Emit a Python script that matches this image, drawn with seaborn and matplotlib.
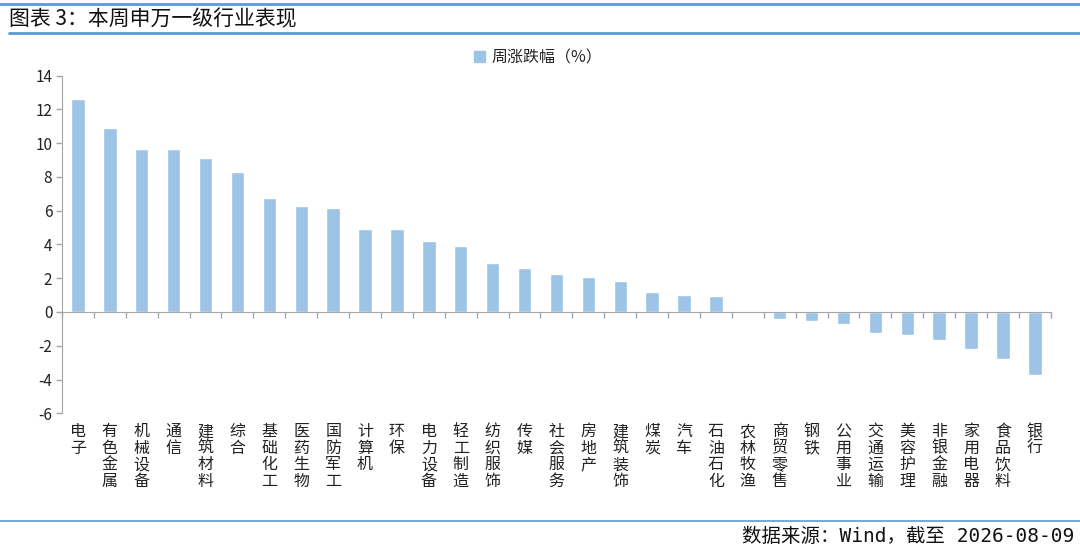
import numpy as np
import pandas as pd
import matplotlib
matplotlib.use('Agg')
import matplotlib.pyplot as plt
import seaborn as sns
from matplotlib.lines import Line2D
from matplotlib.patches import Patch

INDUSTRIES = ['电子', '有色金属', '机械设备', '通信', '建筑材料', '综合', '基础化工', '医药生物',
              '国防军工', '计算机', '环保', '电力设备', '轻工制造', '纺织服饰', '传媒', '社会服务',
              '房地产', '建筑装饰', '煤炭', '汽车', '石油石化', '农林牧渔', '商贸零售', '钢铁',
              '公用事业', '交通运输', '美容护理', '非银金融', '家用电器', '食品饮料', '银行']
WEEKLY_CHG = [12.6, 10.9, 9.68, 9.68, 9.1, 8.27, 6.74, 6.26, 6.14, 4.92, 4.89, 4.22, 3.91,
              2.92, 2.59, 2.25, 2.06, 1.82, 1.16, 1.0, 0.94, 0.06, -0.41, -0.56, -0.71,
              -1.24, -1.35, -1.64, -2.17, -2.79, -3.71]
Y_TICKS = [-6, -4, -2, 0, 2, 4, 6, 8, 10, 12, 14]
LEGEND_NAME = '周涨跌幅（%）'
TITLE = '图表 3：本周申万一级行业表现'
SOURCE = '数据来源：Wind，截至 2026-08-09'

BAR_COLOR = '#9DC3E6'
LINE_COLOR = '#5B9BD5'
AXIS_COLOR = '#A6A6A6'

sns.set_style('white')
plt.rcParams['font.family'] = ['Noto Sans CJK SC', 'DejaVu Sans']
plt.rcParams['axes.unicode_minus'] = False

df = pd.DataFrame({'industry': INDUSTRIES, 'chg': WEEKLY_CHG})

fig = plt.figure(figsize=(10.8, 5.5), dpi=100)
ax = fig.add_axes([0.0574, 0.2486, 0.9156, 0.6138])

sns.barplot(data=df, x='industry', y='chg', color=BAR_COLOR, width=0.42,
            saturation=1, ax=ax)

ax.set_xlim(-0.5, len(INDUSTRIES) - 0.5)
ax.set_ylim(-6, 14)
ax.set_yticks(Y_TICKS)
ax.set_yticklabels([str(t) for t in Y_TICKS], fontsize=11, color='#222222')
ax.set_xlabel('')
ax.set_ylabel('')

# x axis line sits on zero, ticks between categories
ax.spines['bottom'].set_position(('data', 0))
ax.spines['bottom'].set_color(AXIS_COLOR)
ax.spines['left'].set_color(AXIS_COLOR)
ax.spines['top'].set_visible(False)
ax.spines['right'].set_visible(False)
ax.set_xticks(np.arange(len(INDUSTRIES)))
ax.set_xticklabels(['\n'.join(n) for n in INDUSTRIES], fontsize=11.5, linespacing=0.97,
                   va='top', color='#222222')
ax.set_xticks(np.arange(-0.5, len(INDUSTRIES), 1), minor=True)
ax.tick_params(axis='x', which='major', bottom=True, length=0, pad=80)
ax.tick_params(axis='x', which='minor', bottom=True, length=4, width=1,
               color=AXIS_COLOR, direction='out')
ax.tick_params(axis='y', left=True, length=4, width=1, color=AXIS_COLOR,
               direction='out', pad=3)

# legend
fig.legend(handles=[Patch(color=BAR_COLOR, label=LEGEND_NAME)], loc='center',
           bbox_to_anchor=(0.498, 0.895), frameon=False, fontsize=11.5,
           handlelength=0.7, handleheight=0.7, handletextpad=0.4)

# title and source with rules
fig.add_artist(Line2D([0, 1], [0.992, 0.992], color=LINE_COLOR, lw=2))
fig.add_artist(Line2D([0.008, 1], [0.94, 0.94], color=LINE_COLOR, lw=2))
fig.text(0.008, 0.964, TITLE, fontsize=15, va='center', ha='left', color='#111111')
fig.add_artist(Line2D([0, 1], [0.053, 0.053], color=LINE_COLOR, lw=1.2))
fig.text(0.995, 0.024, SOURCE, fontsize=14, va='center', ha='right', color='#111111',
         family=['DejaVu Sans Mono', 'Noto Sans CJK SC'])

fig.savefig('out.png', dpi=100)
